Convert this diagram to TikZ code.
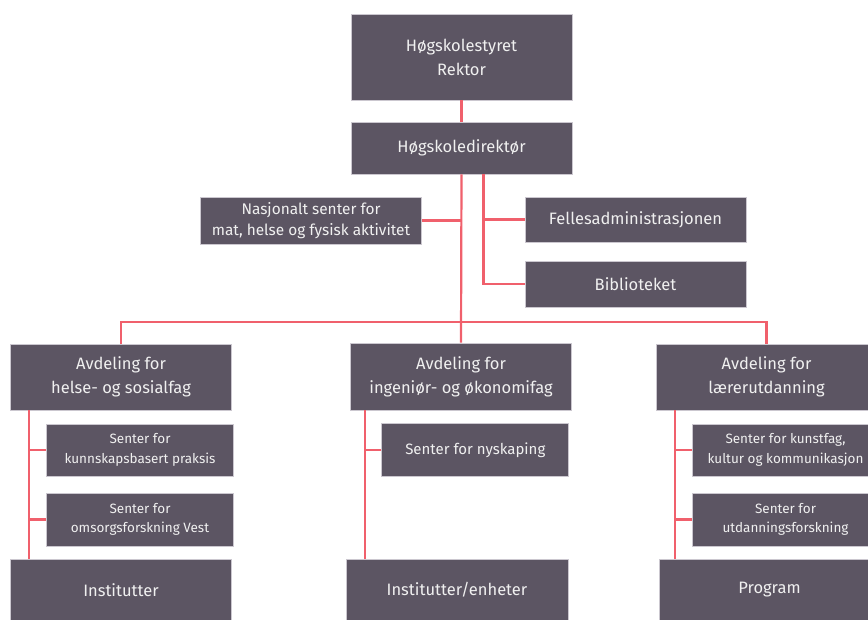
\documentclass[tikz,border=0pt]{standalone}
\usepackage{fontspec}
\setmainfont{Fira Sans}
\usetikzlibrary{positioning}

\definecolor{boxfill}{HTML}{5C5563}
\definecolor{boxline}{HTML}{CBC7CF}
\definecolor{linkred}{HTML}{F0606C}

\begin{document}
\begin{tikzpicture}[%
	x=1pt,y=-1pt,
	unit/.style={draw=boxline,line width=0.8pt,fill=boxfill,text=white!94!black,
		align=center,inner sep=0pt,minimum width=221pt,font=\fontsize{16.5}{24}\selectfont},
	senter/.style={unit,minimum width=187pt,font=\fontsize{13.5}{19.5}\selectfont},
	link/.style={draw=linkred,line width=2.2pt}]

	\useasboundingbox (0,0) rectangle (868,619);
	\clip (0,0) rectangle (868,619);

	\node[unit,minimum height=86pt]	(HS)	at (461.5,57)	{Høgskolestyret\\Rektor};
	\node[unit,minimum height=52pt]	(HD)	at (461.5,148)	{Høgskoledirektør};
	\node[unit,minimum height=47pt,font=\fontsize{15.4}{21}\selectfont]
									(NS)	at (311,220.5)	{Nasjonalt senter for\\mat, helse og fysisk aktivitet};
	\node[unit,minimum height=45pt]	(FA)	at (635.5,219.5)	{Fellesadministrasjonen};
	\node[unit,minimum height=46pt]	(BI)	at (635.5,284)	{Biblioteket};

	\node[unit,minimum height=66pt]	(AH)	at (121,377)	{Avdeling for\\helse- og sosialfag};
	\node[unit,minimum height=67pt]	(AI)	at (461,376.5)	{Avdeling for\\ingeniør- og økonomifag};
	\node[unit,minimum height=66pt]	(AL)	at (766.5,377)	{Avdeling for\\lærerutdanning};

	\node[senter,minimum height=52pt]	(SK)	at (140,450)	{Senter for\\kunnskapsbasert praksis};
	\node[senter,minimum height=53pt]	(SO)	at (140,519.5)	{Senter for\\omsorgsforskning Vest};
	\node[senter,minimum height=53pt,font=\fontsize{15}{21}\selectfont]
										(SN)	at (475.3,450.3)	{Senter for nyskaping};
	\node[senter,minimum height=52pt]	(SKU)	at (785.5,450)	{Senter for kunstfag,\\kultur og kommunikasjon};
	\node[senter,minimum height=53pt]	(SU)	at (785.5,519.5)	{Senter for\\utdanningsforskning};

	\node[unit,minimum height=62pt]	(IN)	at (121,590)	{Institutter};
	\node[unit,minimum height=62pt,minimum width=222pt]
									(IE)	at (457,590)	{Institutter/enheter};
	\node[unit,minimum height=62pt]	(PR)	at (769.5,590)	{Program};

	\coordinate (bus) at (461.5,322);
	\coordinate (HD2) at ([xshift=22pt]HD.south);
	\coordinate (HL) at ([xshift=19pt]AH.south west);
	\coordinate (IL) at ([xshift=15pt]AI.south west);
	\coordinate (LL) at ([xshift=19pt]AL.south west);

	\path[link] (HS) -- (HD);
	\path[link] (HD.south) -- (AI.north);
	\path[link] (NS.east) -- (NS.east -| HD.south);
	\path[link] (HD2) |- (BI.west);
	\path[link] (FA.west) -- (FA.west -| HD2);
	\path[link] (AH.north) |- (bus) -| (AL.north);

	\path[link] (HL) -- (HL |- IN.north);
	\path[link] (SK.west) -- (SK.west -| HL);
	\path[link] (SO.west) -- (SO.west -| HL);

	\path[link] (IL) -- (IL |- IE.north);
	\path[link] (SN.west) -- (SN.west -| IL);

	\path[link] (LL) -- (LL |- PR.north);
	\path[link] (SKU.west) -- (SKU.west -| LL);
	\path[link] (SU.west) -- (SU.west -| LL);

\end{tikzpicture}
\end{document}
